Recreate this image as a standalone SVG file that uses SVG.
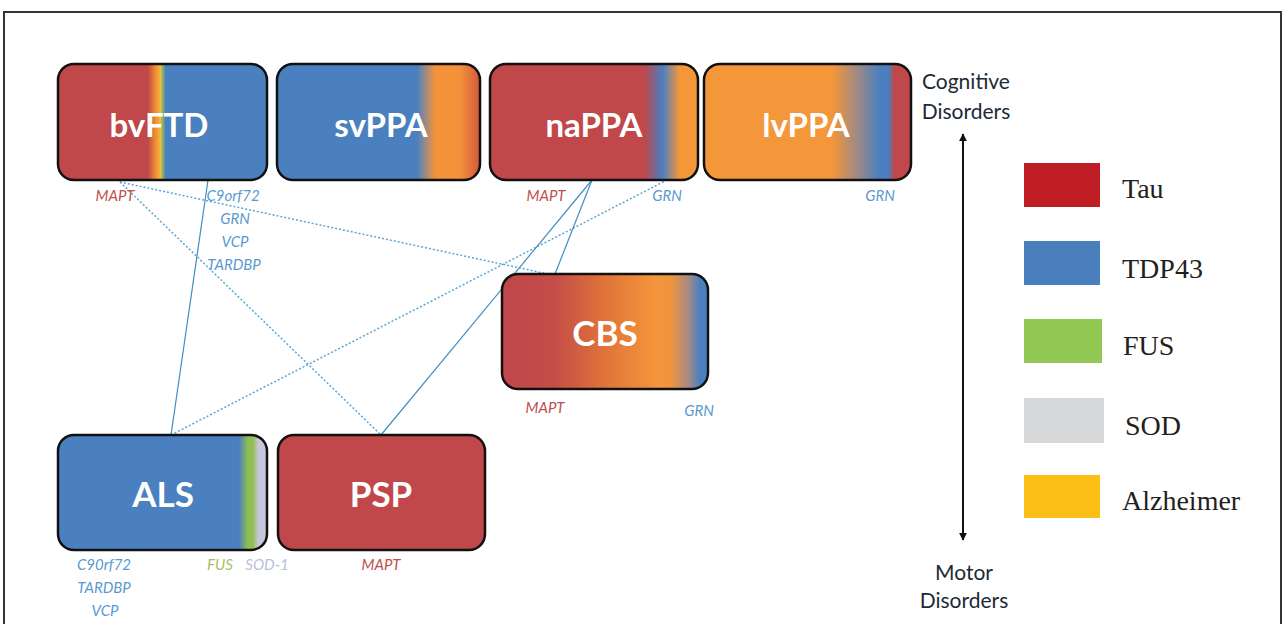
<svg xmlns="http://www.w3.org/2000/svg" width="1285" height="624" viewBox="0 0 1285 624">
<style>
.box{stroke:#111;stroke-width:2.5}
.bt{font-family:Lato,"Open Sans",sans-serif;font-weight:700;fill:#fff;text-anchor:middle}
.top{font-size:33px}
.bot{font-size:35px}
.g{font-family:Lato,"Open Sans",sans-serif;font-style:italic;font-size:15px;text-anchor:middle}
.r{fill:#c0504d}
.b{fill:#5a9ad0}
.side{font-family:Lato,"Open Sans",sans-serif;font-size:21px;fill:#1c2a36;text-anchor:middle}
.leg{font-family:"Liberation Serif",serif;font-size:28px;fill:#231f20}
.sol{stroke:#3f8fbf;stroke-width:1.2;fill:none}
.dot{stroke:#5aa5d5;stroke-width:1.5;fill:none;stroke-dasharray:2 2}
</style>
<defs>
<linearGradient id="gBv" x1="0" x2="1" y1="0" y2="0">
<stop offset="0" stop-color="#c0474a"/><stop offset="0.43" stop-color="#c0474a"/><stop offset="0.465" stop-color="#ee8a30"/><stop offset="0.49" stop-color="#f2b840"/><stop offset="0.5" stop-color="#8fb860"/><stop offset="0.515" stop-color="#4a7fc0"/><stop offset="1" stop-color="#4a7fc0"/>
</linearGradient>
<linearGradient id="gSv" x1="0" x2="1" y1="0" y2="0">
<stop offset="0" stop-color="#4a7fc0"/><stop offset="0.69" stop-color="#4a7fc0"/><stop offset="0.73" stop-color="#9a8a86"/><stop offset="0.78" stop-color="#f4923a"/><stop offset="0.9" stop-color="#f4923a"/><stop offset="1" stop-color="#d2583e"/>
</linearGradient>
<linearGradient id="gNa" x1="0" x2="1" y1="0" y2="0">
<stop offset="0" stop-color="#c0474a"/><stop offset="0.74" stop-color="#c0474a"/><stop offset="0.83" stop-color="#4a7fc0"/><stop offset="0.91" stop-color="#f4963a"/><stop offset="1" stop-color="#f4963a"/>
</linearGradient>
<linearGradient id="gLv" x1="0" x2="1" y1="0" y2="0">
<stop offset="0" stop-color="#f4963a"/><stop offset="0.62" stop-color="#f4963a"/><stop offset="0.74" stop-color="#a08a84"/><stop offset="0.85" stop-color="#4a7fc0"/><stop offset="0.89" stop-color="#4a7fc0"/><stop offset="0.92" stop-color="#c0474a"/><stop offset="1" stop-color="#c0474a"/>
</linearGradient>
<linearGradient id="gCb" x1="0" x2="1" y1="0" y2="0">
<stop offset="0" stop-color="#c0474a"/><stop offset="0.25" stop-color="#c44c48"/><stop offset="0.5" stop-color="#e07438"/><stop offset="0.75" stop-color="#f4963c"/><stop offset="0.82" stop-color="#f0943e"/><stop offset="0.91" stop-color="#a08a88"/><stop offset="0.96" stop-color="#4a7fc0"/><stop offset="1" stop-color="#4a7fc0"/>
</linearGradient>
<linearGradient id="gAl" x1="0" x2="1" y1="0" y2="0">
<stop offset="0" stop-color="#4a7fc0"/><stop offset="0.865" stop-color="#4a7fc0"/><stop offset="0.91" stop-color="#8fbf50"/><stop offset="0.93" stop-color="#8fbf50"/><stop offset="0.96" stop-color="#c8c6dc"/><stop offset="1" stop-color="#c8c6dc"/>
</linearGradient>
<marker id="ah" viewBox="0 0 10 10" refX="9" refY="5" markerWidth="8" markerHeight="8" markerUnits="userSpaceOnUse" orient="auto-start-reverse">
<path d="M0,0 L10,5 L0,10 z" fill="#111"/>
</marker>
</defs>
<rect x="0" y="0" width="1285" height="624" fill="#fff"/>
<rect x="4" y="12" width="1277" height="640" fill="none" stroke="#333" stroke-width="2"/>

<g id="connectors">
<line class="sol" x1="208" y1="180" x2="171" y2="435"/>
<line class="dot" x1="120" y1="182" x2="381" y2="435"/>
<line class="dot" x1="120" y1="182" x2="548" y2="274"/>
<line class="dot" x1="171" y1="435" x2="665" y2="181"/>
<line class="sol" x1="592" y1="180" x2="555" y2="274"/>
<line class="sol" x1="592" y1="180" x2="381" y2="435"/>
</g>

<g id="bvFTD">
<rect class="box" x="58" y="64" width="209" height="116" rx="16" fill="url(#gBv)"/>
<text class="bt top" x="159" y="137">bvFTD</text>
<text class="g r" x="115" y="201">MAPT</text>
<text class="g b" x="233" y="201">C9orf72</text>
<text class="g b" x="235" y="224">GRN</text>
<text class="g b" x="235" y="247">VCP</text>
<text class="g b" x="234" y="270">TARDBP</text>
</g>
<g id="svPPA">
<rect class="box" x="277" y="64" width="203" height="116" rx="16" fill="url(#gSv)"/>
<text class="bt top" x="381" y="137">svPPA</text>
</g>
<g id="naPPA">
<rect class="box" x="490" y="64" width="208" height="116" rx="16" fill="url(#gNa)"/>
<text class="bt top" x="594" y="137">naPPA</text>
<text class="g r" x="546" y="201">MAPT</text>
<text class="g b" x="667" y="201">GRN</text>
</g>
<g id="lvPPA">
<rect class="box" x="704" y="64" width="207" height="116" rx="16" fill="url(#gLv)"/>
<text class="bt top" x="806" y="137">lvPPA</text>
<text class="g b" x="880" y="201">GRN</text>
</g>
<g id="CBS">
<rect class="box" x="502" y="274" width="206" height="115" rx="16" fill="url(#gCb)"/>
<text class="bt bot" x="605" y="346">CBS</text>
<text class="g r" x="545" y="413">MAPT</text>
<text class="g b" x="699" y="416">GRN</text>
</g>
<g id="ALS">
<rect class="box" x="58" y="435" width="209" height="115" rx="16" fill="url(#gAl)"/>
<text class="bt bot" x="163" y="507">ALS</text>
<text class="g b" x="104" y="570">C90rf72</text>
<text class="g b" x="104" y="593">TARDBP</text>
<text class="g b" x="105" y="616">VCP</text>
<text class="g" x="220" y="570" fill="#a8c060">FUS</text>
<text class="g" x="267" y="570" fill="#b8c0d8">SOD-1</text>
</g>
<g id="PSP">
<rect class="box" x="278" y="435" width="207" height="115" rx="16" fill="#c0474a"/>
<text class="bt bot" x="381" y="507">PSP</text>
<text class="g r" x="381" y="570">MAPT</text>
</g>

<g id="axis">
<line x1="963" y1="134" x2="963" y2="540" stroke="#111" stroke-width="2" marker-start="url(#ah)" marker-end="url(#ah)"/>
<text class="side" x="966" y="89">Cognitive</text>
<text class="side" x="966" y="119">Disorders</text>
<text class="side" x="964" y="580">Motor</text>
<text class="side" x="964" y="608">Disorders</text>
</g>

<g id="legend">
<rect x="1024" y="163" width="76" height="44" fill="#be1e24"/>
<text class="leg" x="1122" y="198">Tau</text>
<rect x="1024" y="241" width="76" height="44" fill="#4a7fbd"/>
<text class="leg" x="1122" y="278">TDP43</text>
<rect x="1024" y="319" width="78" height="44" fill="#92c954"/>
<text class="leg" x="1123" y="355">FUS</text>
<rect x="1024" y="398" width="80" height="45" fill="#d7d8da"/>
<text class="leg" x="1125" y="435">SOD</text>
<rect x="1024" y="475" width="76" height="43" fill="#fbbf16"/>
<text class="leg" x="1122" y="510">Alzheimer</text>
</g>
</svg>
